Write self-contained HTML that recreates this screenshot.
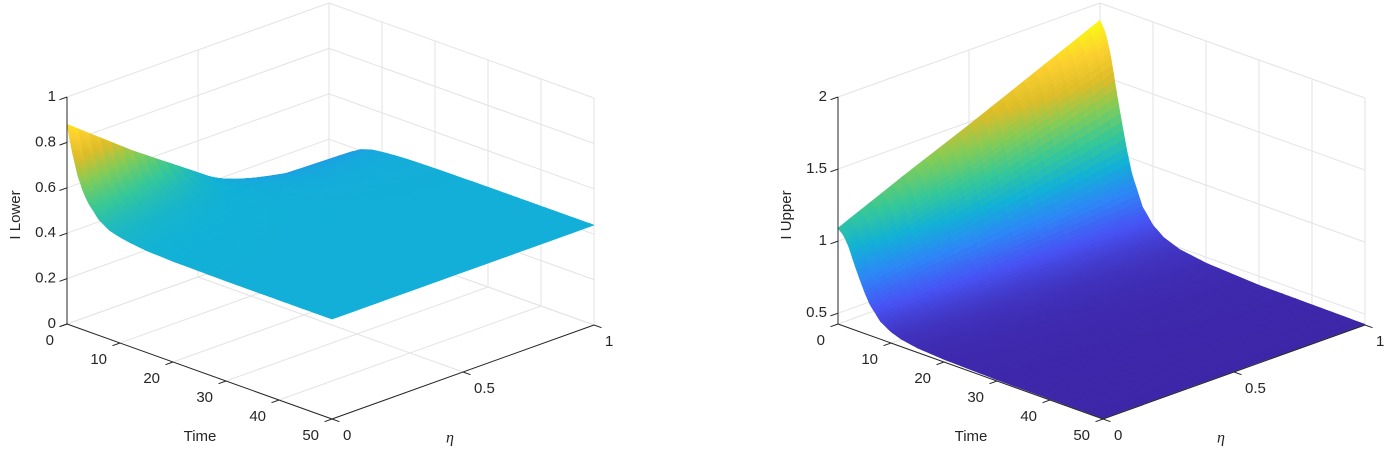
<!DOCTYPE html>
<html><head><meta charset="utf-8"><style>
html,body{margin:0;padding:0;background:#fff;}
svg{display:block;font-family:"Liberation Sans",sans-serif;}
</style></head><body>
<svg id="fig" width="1388" height="452" viewBox="0 0 1388 452" xmlns="http://www.w3.org/2000/svg">
<rect width="1388" height="452" fill="#fff"/>
<g id="p0"></g>
<g id="p1"></g>
</svg>
<script>
// ---- data ----
const timeTicks = [0,10,20,30,40,50];
const etaTicks = [0,0.5,1];
const lowerZTicks = [0,0.2,0.4,0.6,0.8,1];
const lowerZTickLabels = ["0","0.2","0.4","0.6","0.8","1"];
const upperZTicks = [0.5,1,1.5,2];
const upperZTickLabels = ["0.5","1","1.5","2"];

const lowerDecayTimes = [0,1,2,3,4,6,8,10,12,15,20,30,50];
const lowerDecay = [1,0.74,0.53,0.39,0.29,0.16,0.09,0.06,0.04,0.02,0.008,0.001,0];
const lowerEta = [0,0.25,0.5,0.75,1];
const lowerOffset = [0.44,0.22,0.02,-0.19,-0.22];
const lowerSteady = [0.44];
const lowerZLim = [0,1];
const lowerCLim = [0.16,0.92];

const upperDecayTimes = [0,1,2,3,4,5,6,8,10,12,15,20,30,50];
const upperDecay = [1,0.95,0.85,0.7,0.56,0.43,0.32,0.18,0.11,0.07,0.04,0.02,0.005,0];
const upperEta = [0,0.25,0.5,0.75,1];
const upperOffset = [0.66,0.86,1.05,1.25,1.45];
const upperSteady = [0.43];
const upperZLim = [0.425,2.0];
const upperCLim = [0.43,1.88];

// ---- helpers ----
const NS="http://www.w3.org/2000/svg";
function mk(tag,attrs,parent){const e=document.createElementNS(NS,tag);for(const k in attrs)e.setAttribute(k,attrs[k]);parent.appendChild(e);return e;}
function interp(xs,ys,x){if(x<=xs[0])return ys[0];for(let i=1;i<xs.length;i++){if(x<=xs[i]){const f=(x-xs[i-1])/(xs[i]-xs[i-1]);return ys[i-1]+f*(ys[i]-ys[i-1]);}}return ys[ys.length-1];}
const pk=[0,0.125,0.25,0.375,0.5,0.625,0.75,0.875,1];
const pc=[[0.2422,0.1504,0.6603],[0.2810,0.3228,0.9579],[0.1786,0.5289,0.9682],[0.0689,0.6948,0.8394],[0.2161,0.7843,0.5923],[0.5044,0.7993,0.348],[0.8634,0.7406,0.1596],[0.9892,0.8136,0.1885],[0.9769,0.9839,0.0805]];
function parula(v){v=Math.max(0,Math.min(1,v));let i=Math.min(7,Math.floor(v*8));const f=(v-pk[i])*8;const c=[0,1,2].map(j=>Math.round(255*(pc[i][j]+f*(pc[i+1][j]-pc[i][j]))));return `rgb(${c[0]},${c[1]},${c[2]})`;}

function plot(g,ox,zTicks,zLabels,zLim,cLim,dT,dV,eA,oA,steady,zTitle,key){
  const L={x:67+ox,y:324},F={x:332+ox,y:419},R={x:594+ox,y:325},H=227;
  const P=(t,e,z)=>{const zn=(z-zLim[0])/(zLim[1]-zLim[0]);return [L.x+t/50*(F.x-L.x)+e*(R.x-F.x), L.y+t/50*(F.y-L.y)+e*(R.y-F.y)-zn*H];};
  const line=(a,b,col,w,name)=>{const l=mk('line',{x1:a[0].toFixed(2),y1:a[1].toFixed(2),x2:b[0].toFixed(2),y2:b[1].toFixed(2),stroke:col,'stroke-width':w},g);
    
    return l;};
  const gc='#e3e3e3';
  zTicks.forEach(z=>{line(P(0,0,z),P(0,1,z),gc,1,'grid-z-wall-left');line(P(0,1,z),P(50,1,z),gc,1,'grid-z-wall-right');});
  etaTicks.forEach(e=>{line(P(0,e,zLim[0]),P(0,e,zLim[1]),gc,1,'grid-eta-wall');line(P(0,e,zLim[0]),P(50,e,zLim[0]),gc,1,'grid-eta-floor');});
  timeTicks.forEach(t=>{line(P(t,1,zLim[0]),P(t,1,zLim[1]),gc,1,'grid-time-wall');line(P(t,0,zLim[0]),P(t,1,zLim[0]),gc,1,'grid-time-floor');});
  const sg=mk('g',{},g);
  
  
  const NT=110,NE=24;const ts=[],es=[];
  for(let i=0;i<=NT;i++)ts.push(50*Math.pow(i/NT,1.6));
  for(let j=0;j<=NE;j++)es.push(j/NE);
  const Z=(t,e)=>steady[0]+interp(eA,oA,e)*interp(dT,dV,t);
  const quads=[];
  for(let i=0;i<NT;i++)for(let j=0;j<NE;j++){
    const t0=ts[i],t1=ts[i+1],e0=es[j],e1=es[j+1];
    const z00=Z(t0,e0),z10=Z(t1,e0),z11=Z(t1,e1),z01=Z(t0,e1);
    const zm=(z00+z10+z11+z01)/4;
    quads.push({d:(t0+t1)/100-(e0+e1)/2,pts:[P(t0,e0,z00),P(t1,e0,z10),P(t1,e1,z11),P(t0,e1,z01)],c:parula((zm-cLim[0])/(cLim[1]-cLim[0]))});
  }
  quads.sort((a,b)=>a.d-b.d);
  quads.forEach(q=>{const p=mk('polygon',{points:q.pts.map(v=>v[0].toFixed(1)+','+v[1].toFixed(1)).join(' '),fill:q.c,stroke:q.c,'stroke-width':0.6,'stroke-linejoin':'round'},sg);
    
    });
  const ac='#262626';
  line(P(0,0,zLim[0]),P(0,0,zLim[1]),ac,1,'z-axis-line');
  line(P(0,0,zLim[0]),P(50,0,zLim[0]),ac,1,'time-axis-line');
  line(P(50,0,zLim[0]),P(50,1,zLim[0]),ac,1,'eta-axis-line');
  const txt=(x,y,s,anchor,name,extra)=>{const t=mk('text',Object.assign({x:x.toFixed(1),y:y.toFixed(1),'font-size':15,fill:ac,'text-anchor':anchor,'dominant-baseline':'middle'},extra||{}),g);t.textContent=s;
    
    return t;};
  zTicks.forEach((z,i)=>{const p=P(0,0,z);line(p,[p[0]-7.5,p[1]+2.7],ac,1,'z-tick');txt(p[0]-11,p[1],zLabels[i],'end','z-tick-label');});
  timeTicks.forEach(t=>{const p=P(t,0,zLim[0]);line(p,[p[0]-7.5,p[1]+2.7],ac,1,'time-tick');txt(p[0]-13,p[1]+17,String(t),'end','time-tick-label');});
  etaTicks.forEach(e=>{const p=P(50,e,zLim[0]);line(p,[p[0]+7.5,p[1]+2.7],ac,1,'eta-tick');txt(p[0]+11,p[1]+17,String(e),'start','eta-tick-label');});
  txt(200+ox,437,'Time','middle','time-axis-title');
  txt(450+ox,439,'η','middle','eta-axis-title',{'font-style':'italic','font-family':'"Liberation Serif",serif','font-size':16});
  txt(16+ox,215,zTitle,'middle','z-axis-title',{transform:`rotate(-90 ${16+ox} 215)`});
}
plot(document.getElementById('p0'),0,lowerZTicks,lowerZTickLabels,lowerZLim,lowerCLim,lowerDecayTimes,lowerDecay,lowerEta,lowerOffset,lowerSteady,'I Lower','i-lower');
plot(document.getElementById('p1'),771,upperZTicks,upperZTickLabels,upperZLim,upperCLim,upperDecayTimes,upperDecay,upperEta,upperOffset,upperSteady,'I Upper','i-upper');
</script>
</body></html>
